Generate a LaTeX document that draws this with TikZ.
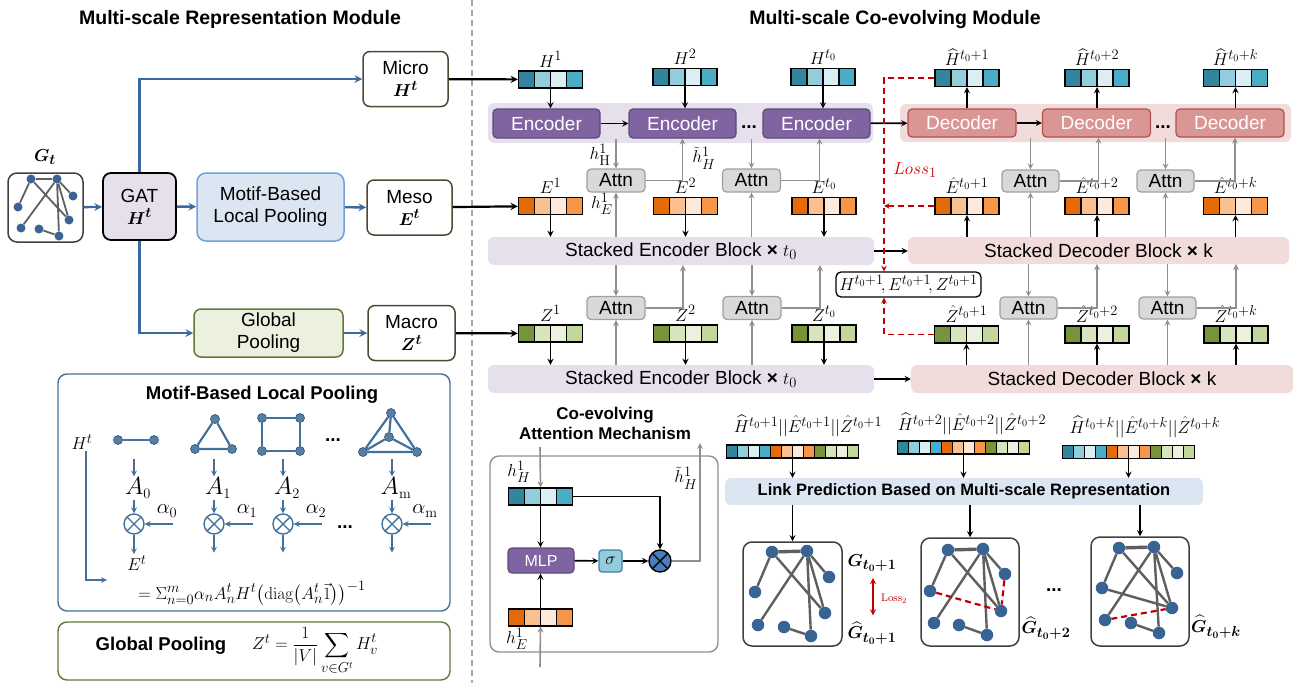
\documentclass[tikz,border=0pt]{standalone}
\usepackage[no-math]{fontspec}
\setmainfont{Liberation Sans}
\usepackage{amsmath,bm}
\usetikzlibrary{positioning,calc}

\DeclareMathSizes{17}{17.28}{14.4}{10}
\DeclareMathSizes{18}{17.28}{14.4}{10}
\DeclareMathSizes{19}{17.28}{14.4}{10}
\DeclareMathSizes{21}{20.74}{14.4}{10}
\DeclareMathSizes{23}{24.88}{14.4}{12}

\definecolor{hA}{HTML}{31859C}
\definecolor{hB}{HTML}{92CDDC}
\definecolor{hC}{HTML}{DAEEF3}
\definecolor{hD}{HTML}{4BACC6}
\definecolor{eA}{HTML}{E36C09}
\definecolor{eB}{HTML}{FAC090}
\definecolor{eC}{HTML}{FDE9D9}
\definecolor{eD}{HTML}{F79646}
\definecolor{zA}{HTML}{77933C}
\definecolor{zB}{HTML}{D7E4BD}
\definecolor{zC}{HTML}{EBF1DE}
\definecolor{zD}{HTML}{C3D69B}
\definecolor{leftblue}{HTML}{3D6A9E}
\definecolor{motifblue}{HTML}{41719C}
\definecolor{nodeblue}{HTML}{3A6395}
\definecolor{edgegray}{HTML}{5F5F5F}
\definecolor{encfill}{HTML}{8064A2}
\definecolor{encborder}{HTML}{5F497A}
\definecolor{encband}{HTML}{E5E0EC}
\definecolor{decfill}{HTML}{D99694}
\definecolor{decborder}{HTML}{B3504D}
\definecolor{decband}{HTML}{F2DCDB}
\definecolor{attnfill}{HTML}{D9D9D9}
\definecolor{attnborder}{HTML}{A0A0A0}
\definecolor{arrgray}{HTML}{8F8F8F}
\definecolor{lossred}{HTML}{C00000}
\definecolor{scaleborder}{HTML}{4E4A32}
\definecolor{motiffill}{HTML}{DCE6F2}
\definecolor{motifborder}{HTML}{6FA2DC}
\definecolor{globfill}{HTML}{EBF1DE}
\definecolor{globborder}{HTML}{5E7A35}
\definecolor{sigfill}{HTML}{93CDDD}
\definecolor{sigborder}{HTML}{3A7FA8}
\definecolor{oxfill}{HTML}{4A7EBB}

\newcommand\cellrow[2]{%
  \foreach \cc [count=\ci from 0] in {#2}
    \fill[\cc] ([xshift=\ci*#1]path picture bounding box.south west) rectangle ++(#1,40pt);
  \foreach \cc [count=\ci] in {#2}
    \draw[line width=1.1pt] ([xshift=\ci*#1]path picture bounding box.south west) -- ++(0pt,40pt);
}

\tikzset{
  ttl/.style={font=\fontsize{19.5}{22}\selectfont\bfseries},
  sep/.style={draw=gray!70, line width=1.3pt, dash pattern=on 6pt off 4pt},
  gbox/.style={draw=black!75, rounded corners=9pt, line width=1.5pt},
  gdot/.style={circle, fill=nodeblue, inner sep=0pt},
  gline/.style={color=edgegray},
  scalebox/.style={draw=scaleborder, fill=white, rounded corners=7pt, line width=1.5pt,
    align=center, minimum width=85pt, minimum height=55pt, inner sep=1pt},
  band/.style={fill=#1, rounded corners=6pt, inner sep=0pt},
  encbox/.style={draw=encborder, fill=encfill, text=white, rounded corners=4pt,
    line width=1.2pt, minimum width=107pt, minimum height=29pt, inner sep=0pt},
  decbox/.style={draw=decborder, fill=decfill, text=white, rounded corners=4pt,
    line width=1.2pt, minimum width=108pt, minimum height=28pt, inner sep=0pt},
  attnbox/.style={draw=attnborder, fill=attnfill, rounded corners=4pt,
    line width=1.2pt, minimum width=58pt, minimum height=23pt, inner sep=0pt},
  vecbox/.style={draw, line width=1.2pt, inner sep=0pt, minimum width=64pt, minimum height=17pt},
  hvec/.style={vecbox, path picture={\cellrow{16pt}{hA,hB,hC,hD}}},
  evec/.style={vecbox, path picture={\cellrow{16pt}{eA,eB,eC,eD}}},
  zvec/.style={vecbox, path picture={\cellrow{16pt}{zA,zB,zC,zD}}},
  catvec/.style={draw, line width=1.1pt, inner sep=0pt, minimum width=132pt, minimum height=13pt,
    path picture={\cellrow{11pt}{hA,hB,hC,hD,eA,eB,eC,eD,zA,zB,zC,zD}}},
  vlab/.style={font=\fontsize{17}{19}\selectfont, inner sep=1pt},
  dots/.style={font=\fontsize{19}{21}\selectfont\bfseries, inner sep=0pt},
  arr/.style={->, >=stealth, line width=1.7pt},
  harr/.style={->, >=stealth, line width=2.2pt},
  garr/.style={->, >=stealth, line width=1.6pt, color=arrgray},
  barr/.style={->, >=stealth, line width=2.4pt, color=leftblue},
  marr/.style={->, >=stealth, line width=1.6pt, color=motifblue},
  mline/.style={line width=2.2pt, color=motifblue},
  mdot/.style={circle, fill=motifblue!90, draw=motifblue!70!black, line width=0.6pt,
    inner sep=0pt, minimum size=9pt},
  otimes/.style={circle, draw=#1, line width=1.4pt, inner sep=0pt, minimum size=20pt,
    path picture={\draw[#1, line width=1.4pt]
      (path picture bounding box.north west) -- (path picture bounding box.south east)
      (path picture bounding box.north east) -- (path picture bounding box.south west);}},
  loss/.style={->, >=stealth, line width=1.5pt, color=lossred, dash pattern=on 6pt off 4pt},
  lossdash/.style={line width=2.2pt, color=lossred, dash pattern=on 6pt off 4pt}
}

\begin{document}
\begin{tikzpicture}[x=1pt, y=-1pt, font=\fontsize{19}{22}\selectfont]
  \useasboundingbox (0,0) rectangle (1304,683);

  % titles and separator
  \node[ttl] (ttlL) at (240,19) {Multi-scale Representation Module};
  \node[ttl] (ttlR) at (895,19) {Multi-scale Co-evolving Module};
  \draw[sep] (472,0) -- (472,683);

  % multi-scale representation
  \node[gbox, minimum width=75pt, minimum height=69pt] (gin) at (45.5,207.5) {};
  \node (gintl) at (45,157) {$\bm{G_t}$};
  \node[draw, fill=encband, rounded corners=8pt, line width=1.8pt, align=center,
        minimum width=73pt, minimum height=67pt, inner sep=1pt] (gat) at (139.5,206.5) {GAT\\$\bm{H^t}$};
  \node[draw=motifborder, fill=motiffill, rounded corners=9pt, line width=1.5pt, align=center,
        minimum width=147pt, minimum height=68pt, inner sep=1pt] (motif) at (270.5,207) {Motif-Based\\Local Pooling};
  \node[draw=globborder, fill=globfill, rounded corners=7pt, line width=1.5pt, align=center,
        minimum width=149pt, minimum height=48pt, inner sep=1pt] (glob) at (268.5,333) {Global\\Pooling};
  \node[scalebox] (micro) at (405.5,79) {Micro\\$\bm{H^t}$};
  \node[scalebox] (meso) at (409.5,207.5) {Meso\\$\bm{E^t}$};
  \node[scalebox, minimum width=87pt] (macro) at (411.5,333) {Macro\\$\bm{Z^t}$};

  \draw[barr] (gin) -- (gat);
  \draw[barr] (gat) -- (motif);
  \draw[barr] (motif) -- (meso);
  \draw[barr] (gat.north) |- (micro.west);
  \draw[barr] (gat.south) |- (glob.west);
  \draw[barr] (glob) -- (macro);

  % motif-based local pooling
  \node[draw=motifblue, rounded corners=9pt, line width=1.4pt,
        minimum width=392pt, minimum height=237pt] (mbox) at (254,492.5) {};
  \node[font=\fontsize{18.5}{21}\selectfont\bfseries] (mttl) at (262,395) {Motif-Based Local Pooling};
  \node[vlab] (mH) at (82,442) {$H^t$};
  \coordinate (mend) at (107,580);
  \draw[marr] ([xshift=4pt]mH.south) |- (mend);
  \node[mdot] (m01) at (118,440) {};
  \node[mdot] (m02) at (154,440) {};
  \node[mdot] (m11) at (215,419) {};
  \node[mdot] (m12) at (195,449) {};
  \node[mdot] (m13) at (232,449) {};
  \node[mdot] (m21) at (262,418) {};
  \node[mdot] (m22) at (300,418) {};
  \node[mdot] (m23) at (300,451) {};
  \node[mdot] (m24) at (262,451) {};
  \node[mdot] (m31) at (391,413) {};
  \node[mdot] (m32) at (389,437) {};
  \node[mdot] (m33) at (363,452) {};
  \node[mdot] (m34) at (417,452) {};
  \draw[mline] (m01) -- (m02);
  \draw[mline] (m11) -- (m12) -- (m13) -- (m11);
  \draw[mline] (m21) -- (m22) -- (m23) -- (m24) -- (m21);
  \draw[mline] (m31) -- (m33) -- (m34) -- (m31) (m31) -- (m32) (m32) -- (m33) (m32) -- (m34);
  \node[dots] (mdots) at (333,440) {...};

  \foreach \i/\x/\lab/\al in {0/134/0/0, 1/214/1/1, 2/283/2/2, m/392/{\mathrm{m}}/{\mathrm{m}}} {
    \node[font=\fontsize{23}{25}\selectfont, inner sep=1pt] (A\i) at (\x+4,488) {$A_{\lab}$};
    \node[otimes=motifblue] (ox\i) at (\x,524) {};
    \node[font=\fontsize{21}{23}\selectfont, inner sep=1pt] (al\i) at (\x+33,511) {$\alpha_{\al}$};
    \draw[marr] ([yshift=17pt]A\i.north -| ox\i) -- (A\i.north -| ox\i);
    \draw[marr] (A\i.south -| ox\i) -- (ox\i.north);
    \draw[marr] ([xshift=28pt]ox\i.east) -- (ox\i.east);
  }
  \node[vlab] (Et) at (137,563) {$E^t$};
  \draw[marr] (ox0.south) -- (ox0.south |- Et.north);
  \foreach \i in {1,2,m}
    \draw[marr] (ox\i.south) -- ([yshift=-18pt]ox\i.south);
  \node[dots] (odots) at (345,527) {...};
  \node[font=\fontsize{18}{20}\selectfont] (mform) at (252,593)
    {$=\Sigma_{n=0}^{m}\alpha_n A_n^t H^t\big(\mathrm{diag}\big(A_n^t\vec{1}\big)\big)^{-1}$};

  % global pooling
  \node[draw=globborder, rounded corners=9pt, line width=1.4pt,
        minimum width=392pt, minimum height=58pt] (gpbox) at (254,651) {};
  \node[font=\fontsize{18.5}{21}\selectfont\bfseries] (gpttl) at (161,646) {Global Pooling};
  \node[font=\fontsize{17}{19}\selectfont] (gpform) at (315,651)
    {$Z^t=\dfrac{1}{|V|}\displaystyle\sum_{v\in G^t}H_v^t$};

  % encoder side
  \node[band=encband, minimum width=385pt, minimum height=40pt] (encrow) at (680.5,123) {};
  \node[encbox] (enc1) at (546.5,123.5) {Encoder};
  \node[encbox] (enc2) at (682.5,123.5) {Encoder};
  \node[encbox] (enc3) at (816.5,123.5) {Encoder};
  \node[dots] (encdots) at (749,127) {...};
  \node[band=encband, minimum width=386pt, minimum height=28pt] (sencA) at (681,251)
    {Stacked Encoder Block {\bfseries ×} $t_0$};
  \node[band=encband, minimum width=386pt, minimum height=28pt] (sencB) at (681,379)
    {Stacked Encoder Block {\bfseries ×} $t_0$};

  \node[hvec] (h1) at (550.5,79.5) {};
  \node[hvec] (h2) at (685,77) {};
  \node[hvec] (h3) at (823,77) {};
  \node[evec] (e1) at (550.5,206) {};
  \node[evec] (e2) at (685.5,206) {};
  \node[evec] (e3) at (824,206) {};
  \node[zvec] (z1) at (550.5,333.5) {};
  \node[zvec] (z2) at (685.5,333.5) {};
  \node[zvec] (z3) at (824,333.5) {};
  \node[vlab, above=2pt of h1] (h1l) {$H^1$};
  \node[vlab, above=2pt of h2] (h2l) {$H^2$};
  \node[vlab, above=2pt of h3] (h3l) {$H^{t_0}$};
  \node[vlab, above=2pt of e1] (e1l) {$E^1$};
  \node[vlab, above=2pt of e2] (e2l) {$E^2$};
  \node[vlab, above=2pt of e3] (e3l) {$E^{t_0}$};
  \node[vlab, above=2pt of z1] (z1l) {$Z^1$};
  \node[vlab, above=2pt of z2] (z2l) {$Z^2$};
  \node[vlab, above=2pt of z3] (z3l) {$Z^{t_0}$};

  \draw[harr] (micro) -- (h1);
  \draw[harr] (meso) -- (e1);
  \draw[harr] (macro) -- (z1);
  \draw[arr] (h1.south) -- (h1.south |- enc1.north);
  \draw[arr] (h2.south) -- (h2.south |- enc2.north);
  \draw[arr] (h3.south) -- (h3.south |- enc3.north);
  \draw[arr] (enc1) -- (enc2);
  \draw[arr] (e1.south) -- (e1.south |- sencA.north);
  \draw[arr] (e2.south) -- (e2.south |- sencA.north);
  \draw[arr] (e3.south) -- (e3.south |- sencA.north);
  \draw[arr] (z1.south) -- (z1.south |- sencB.north);
  \draw[arr] (z2.south) -- (z2.south |- sencB.north);
  \draw[arr] (z3.south) -- (z3.south |- sencB.north);

  \node[attnbox] (atA1) at (616,180.5) {Attn};
  \node[attnbox] (atA2) at (751.5,180.5) {Attn};
  \node[attnbox] (atC1) at (616,308) {Attn};
  \node[attnbox] (atC2) at (752,308) {Attn};
  \draw[garr] (atA1.north |- enc1.south) -- (atA1.north);
  \draw[garr] (atA1.east) -| (enc2.south);
  \draw[garr] (atA1.south |- sencA.north) -- (atA1.south);
  \draw[garr] (atA2.north |- enc2.south) -- (atA2.north);
  \draw[garr] (atA2.east) -| ([xshift=3pt]enc3.south);
  \draw[garr] (atA2.south |- sencA.north) -- (atA2.south);
  \draw[garr] (atC1.north |- sencA.south) -- (atC1.north);
  \draw[garr] (atC1.east) -| ([xshift=2pt]sencA.south);
  \draw[garr] (atC1.south |- sencB.north) -- (atC1.south);
  \draw[garr] (atC2.north |- sencA.south) -- (atC2.north);
  \draw[garr] (atC2.east) -| ([xshift=-4pt]z3 |- sencA.south);
  \draw[garr] (atC2.south |- sencB.north) -- (atC2.south);
  \node[vlab] (hHl) at (600,155) {$h^1_{\mathrm{H}}$};
  \node[vlab] (thl) at (704,158) {$\tilde{h}^1_H$};
  \node[vlab] (hEl) at (602,204) {$h^1_E$};

  % decoder side
  \node[band=decband, minimum width=391pt, minimum height=38pt] (decrow) at (1095.5,123) {};
  \node[decbox] (dec1) at (962,123) {Decoder};
  \node[decbox] (dec2) at (1096.5,123) {Decoder};
  \node[decbox] (dec3) at (1230,123) {Decoder};
  \node[dots] (decdots) at (1163,127) {...};
  \node[band=decband, minimum width=381pt, minimum height=27pt] (sdecA) at (1098.5,250.5)
    {Stacked Decoder Block {\bfseries ×} k};
  \node[band=decband, minimum width=382pt, minimum height=28pt] (sdecB) at (1102,379)
    {Stacked Decoder Block {\bfseries ×} k};

  \node[hvec] (hh1) at (967,78) {};
  \node[hvec] (hh2) at (1097,78) {};
  \node[hvec] (hh3) at (1235.5,78) {};
  \node[evec] (eh1) at (967,206) {};
  \node[evec] (eh2) at (1097,206) {};
  \node[evec] (eh3) at (1235.5,206) {};
  \node[zvec] (zh1) at (966.5,334.5) {};
  \node[zvec] (zh2) at (1097,334.5) {};
  \node[zvec] (zh3) at (1236,334.5) {};
  \node[vlab, above=2pt of hh1] (hh1l) {$\widehat{H}^{t_0+1}$};
  \node[vlab, above=2pt of hh2] (hh2l) {$\widehat{H}^{t_0+2}$};
  \node[vlab, above=2pt of hh3] (hh3l) {$\widehat{H}^{t_0+k}$};
  \node[vlab, above=2pt of eh1] (eh1l) {$\hat{E}^{t_0+1}$};
  \node[vlab, above=2pt of eh2] (eh2l) {$\hat{E}^{t_0+2}$};
  \node[vlab, above=2pt of eh3] (eh3l) {$\hat{E}^{t_0+k}$};
  \node[vlab, above=2pt of zh1] (zh1l) {$\hat{Z}^{t_0+1}$};
  \node[vlab, above=2pt of zh2] (zh2l) {$\hat{Z}^{t_0+2}$};
  \node[vlab, above=2pt of zh3] (zh3l) {$\hat{Z}^{t_0+k}$};

  \draw[arr] (enc3) -- (dec1);
  \draw[arr] (dec1) -- (dec2);
  \draw[arr] (hh1.south |- dec1.north) -- (hh1.south);
  \draw[arr] (hh2.south |- dec2.north) -- (hh2.south);
  \draw[arr] (hh3.south |- dec3.north) -- (hh3.south);
  \draw[arr] (eh1.south |- sdecA.north) -- (eh1.south);
  \draw[arr] (eh2.south |- sdecA.north) -- (eh2.south);
  \draw[arr] (eh3.south |- sdecA.north) -- (eh3.south);
  \draw[arr] (zh1.south |- sdecB.north) -- (zh1.south);
  \draw[arr] (zh2.south |- sdecB.north) -- (zh2.south);
  \draw[arr] (zh3.south |- sdecB.north) -- (zh3.south);
  \draw[arr] (sencA.east) -- (sencA.east -| sdecA.west);
  \draw[arr] (sencB.east) -- (sencB.east -| sdecB.west);

  \node[attnbox, minimum width=57pt, minimum height=22pt] (atB1) at (1030.5,181) {Attn};
  \node[attnbox, minimum width=57pt, minimum height=22pt] (atB2) at (1165.5,181) {Attn};
  \node[attnbox, minimum width=57pt, minimum height=22pt] (atD1) at (1028.5,308) {Attn};
  \node[attnbox, minimum width=57pt, minimum height=22pt] (atD2) at (1167.5,308) {Attn};
  \draw[garr] (atB1.north |- dec1.south) -- (atB1.north);
  \draw[garr] (atB1.east) -| ([xshift=2pt]dec2.south);
  \draw[garr] (atB1.south |- sdecA.north) -- (atB1.south);
  \draw[garr] (atB2.north |- dec2.south) -- (atB2.north);
  \draw[garr] (atB2.east) -| ([xshift=5pt]dec3.south);
  \draw[garr] (atB2.south |- sdecA.north) -- (atB2.south);
  \draw[garr] (atD1.north |- sdecA.south) -- (atD1.north);
  \draw[garr] (atD1.east) -| (zh2 |- sdecA.south);
  \draw[garr] (atD1.south |- sdecB.north) -- (atD1.south);
  \draw[garr] (atD2.north |- sdecA.south) -- (atD2.north);
  \draw[garr] (atD2.east) -| (zh3 |- sdecA.south);
  \draw[garr] (atD2.south |- sdecB.north) -- (atD2.south);

  % loss 1
  \node[draw, fill=white, rounded corners=5pt, line width=1.3pt, inner sep=2pt,
        minimum width=145pt, minimum height=25pt, font=\fontsize{17}{19}\selectfont] (tgt) at (908.5,284.5)
    {$H^{t_0+1}\!,E^{t_0+1}\!,Z^{t_0+1}$};
  \coordinate (lx) at (884,0);
  \draw[loss] (hh1.west) -| (tgt.north -| lx);
  \draw[loss] (eh1.west) -- (eh1.west -| lx);
  \draw[loss] (zh1.west) -| (tgt.south -| lx);
  \node[text=lossred] (l1) at (915,170) {$Loss_1$};

  % co-evolving attention mechanism
  \node[font=\fontsize{17}{20}\selectfont\bfseries, align=center] (cttl) at (605,423)
    {Co-evolving\\Attention Mechanism};
  \node[draw=arrgray, rounded corners=9pt, line width=1.4pt,
        minimum width=228pt, minimum height=196pt] (cbox) at (604,554) {};
  \node[hvec] (ch) at (540.5,496.5) {};
  \node[evec] (ce) at (540.5,617.5) {};
  \node[draw=encborder, fill=encfill, text=white, rounded corners=4pt, line width=1.2pt,
        minimum width=66pt, minimum height=25pt, inner sep=0pt, font=\fontsize{16}{18}\selectfont] (mlp) at (541,560.5) {MLP};
  \node[draw=sigborder, fill=sigfill, rounded corners=3pt, line width=1.2pt,
        minimum width=23pt, minimum height=22pt, inner sep=0pt, font=\fontsize{16}{18}\selectfont] (sig) at (610.5,561) {$\sigma$};
  \node[otimes=black, fill=oxfill, minimum size=22pt] (cx) at (660,561) {};
  \coordinate (cin) at (540,447);
  \coordinate (cout) at (700,443);
  \coordinate (cbot) at (540,667);
  \draw[garr] (cin) -- (ch.north);
  \draw[arr] (ch.south) -- (ch.south |- mlp.north);
  \draw[arr] (ce.north) -- (ce.north |- mlp.south);
  \draw[arr] (mlp) -- (sig);
  \draw[arr] (sig) -- (cx);
  \draw[arr] (ch.east) -| (cx.north);
  \draw[garr] (cx.east) -| (cout);
  \draw[garr] (cbot) -- (ce.south);
  \node[vlab] (chl) at (519,472) {$h^1_H$};
  \node[vlab] (ctl) at (686,478) {$\tilde{h}^1_H$};
  \node[vlab] (cel) at (517,639) {$h^1_E$};

  % link prediction
  \node[band=motiffill, minimum width=478pt, minimum height=27pt,
        font=\fontsize{16.5}{19}\selectfont\bfseries] (lp) at (964,491.5)
    {Link Prediction Based on Multi-scale Representation};
  \node[catvec] (cv1) at (792.5,451.5) {};
  \node[catvec] (cv2) at (963.5,447.5) {};
  \node[catvec] (cv3) at (1128.5,452) {};
  \node[vlab, font=\fontsize{17}{19}\selectfont] (cv1l) at (808,426)
    {$\widehat{H}^{t_0+1}||\hat{E}^{t_0+1}||\hat{Z}^{t_0+1}$};
  \node[vlab, font=\fontsize{17}{19}\selectfont] (cv2l) at (972,424)
    {$\widehat{H}^{t_0+2}||\hat{E}^{t_0+2}||\hat{Z}^{t_0+2}$};
  \node[vlab, font=\fontsize{17}{19}\selectfont] (cv3l) at (1145,427)
    {$\widehat{H}^{t_0+k}||\hat{E}^{t_0+k}||\hat{Z}^{t_0+k}$};
  \draw[arr] (cv1.south) -- (cv1.south |- lp.north);
  \draw[arr] (cv2.south) -- (cv2.south |- lp.north);
  \draw[arr] (cv3.south) -- (cv3.south |- lp.north);

  % predicted graphs
  \node[gbox, minimum width=99pt, minimum height=104pt] (gr1) at (792.5,594) {};
  \node[gbox, minimum width=98pt, minimum height=108pt] (gr2) at (970,592) {};
  \node[gbox, minimum width=98pt, minimum height=109pt] (gr3) at (1140,591.5) {};
  \draw[arr] (lp.south -| gr1.north) -- (gr1.north);
  \draw[arr] (lp.south -| gr2.north) -- (gr2.north);
  \draw[arr] (lp.south -| gr3.north) -- (gr3.north);

  \foreach \n/\p in {1/{31,179},2/{57,179},3/{73,196},4/{18,207},5/{69,220},6/{21,228},7/{39,229},8/{59,236}}
    \node[gdot, minimum size=9pt] (a\n) at (\p) {};
  \foreach \n/\p in {1/{772,552},2/{807,551},3/{829,577},4/{755,592},5/{825,613},6/{758,625},7/{784,627},8/{811,636}}
    \node[gdot, minimum size=12.5pt] (b\n) at (\p) {};
  \foreach \n/\p in {1/{948,550},2/{983,549},3/{1005,574},4/{930,591},5/{1001,611},6/{934,623},7/{959,625},8/{987,635}}
    \node[gdot, minimum size=12.5pt] (c\n) at (\p) {};
  \foreach \n/\p in {1/{1119,548},2/{1154,547},3/{1177,573},4/{1102,588},5/{1172,608},6/{1105,620},7/{1131,623},8/{1159,633}}
    \node[gdot, minimum size=12.5pt] (d\n) at (\p) {};
  \foreach \g/\w in {a/1.8pt,b/2.4pt,c/2.4pt,d/2.4pt}
    \draw[gline, line width=\w] (\g1) -- (\g4) (\g1) -- (\g5) (\g2) -- (\g6) (\g2) -- (\g3)
      (\g2) -- (\g8) (\g2) -- (\g5) (\g7) -- (\g8);
  \foreach \g/\w in {a/2.8pt,b/3.4pt,c/3.4pt,d/3.4pt}
    \draw[gline, line width=\w] (\g1) -- (\g2);
  \draw[gline, line width=2.4pt] (d4) -- (d5);
  \draw[lossdash] (c4) -- (c5) (c3) -- (c5);
  \draw[lossdash] (d6) -- (d5);

  \node (gt1) at (872,563) {$\bm{G_{t_0+1}}$};
  \node (gh1) at (872,633) {$\widehat{\bm{G}}_{\bm{t_0+1}}$};
  \node (gh2) at (1046,628) {$\widehat{\bm{G}}_{\bm{t_0+2}}$};
  \node (gh3) at (1216,627) {$\widehat{\bm{G}}_{\bm{t_0+k}}$};
  \draw[<->, >=stealth, lossred, line width=1.6pt, shorten <=3pt, shorten >=3pt]
    ([xshift=1pt]gt1.south) -- ([xshift=1pt]gh1.north);
  \node[text=lossred, font=\fontsize{11}{12}\selectfont] (l2) at (894,599) {$\mathrm{Loss}_2$};
  \node[dots] (gdots) at (1054,590) {...};
\end{tikzpicture}
\end{document}
